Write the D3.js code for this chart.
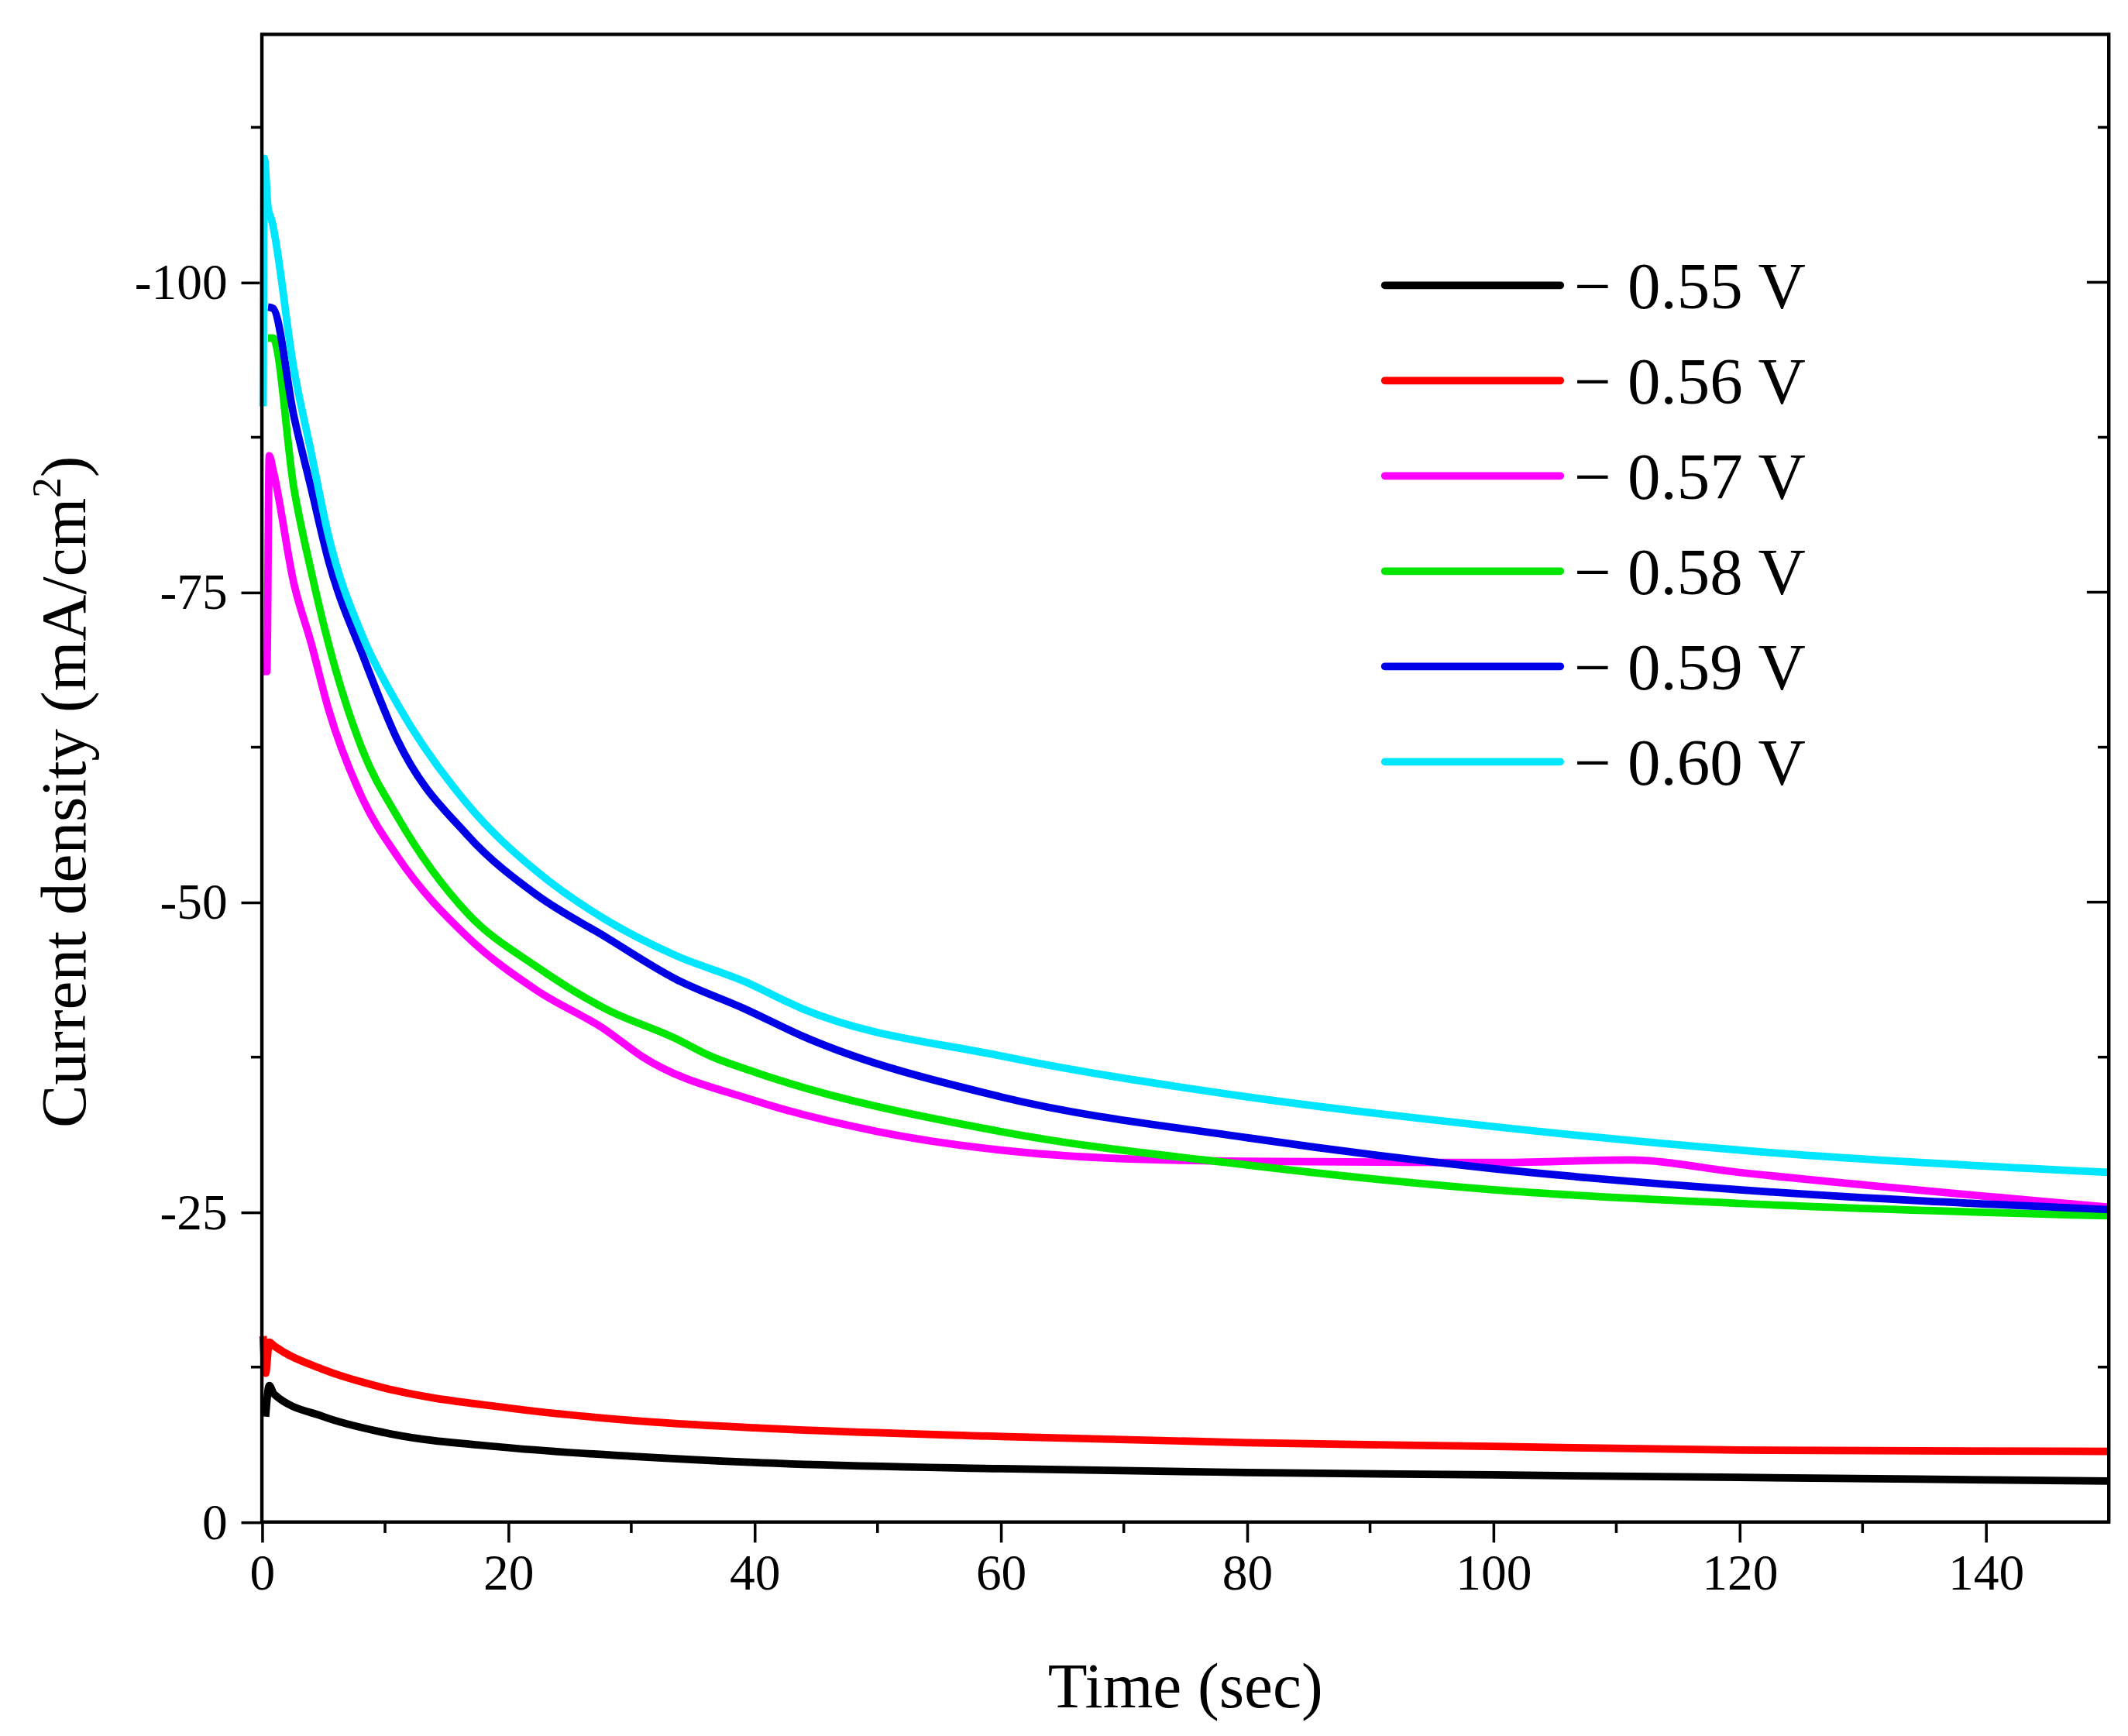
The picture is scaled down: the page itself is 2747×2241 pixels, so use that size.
<!DOCTYPE html>
<html><head><meta charset="utf-8">
<script src="https://cdn.jsdelivr.net/npm/d3@7"></script>
<style>body{margin:0;background:#fff}</style></head>
<body><svg id="c" width="2747" height="2241" viewBox="0 0 1552 1266"></svg>
<script>
const seriesNames = ["− 0.55 V","− 0.56 V","− 0.57 V","− 0.58 V","− 0.59 V","− 0.60 V"];
const seriesColors = ["#000000","#ff0000","#ff00ff","#00e600","#0000e6","#00e6ff"];
const xTicks = [0,20,40,60,80,100,120,140];
const yTicks = [0,25,50,75,100];
const t055 = [0.3,0.6,1,5,10,20,30,40,60,80,100,120,150];
const v055 = [8.5,11,10.3,8.5,7.2,6,5.3,4.8,4.3,4,3.8,3.6,3.3];
const t056 = [0.1,0.3,0.6,1,5,10,20,30,40,60,80,100,120,150];
const v056 = [15,12,14.5,14.2,12.3,10.8,9.2,8.2,7.6,6.9,6.4,6.1,5.8,5.7];
const t057 = [0.1,0.4,0.6,0.9,2.6,4,5.4,8.2,11,16.7,22.3,27.9,30.8,40,50,60,70,80,100,111,120,150];
const v057 = [68.6,68.6,86,84.9,75.7,70.9,65.6,58.3,53.7,47.2,42.9,39.7,37.6,34,31.5,30,29.3,29.1,29,29.2,28.2,25.4];
const t058 = [0.5,0.9,2.6,4,5.4,8.2,11,16.7,22.3,27.9,33.6,36.4,40,60,80,100,120,150];
const v058 = [95.5,95.5,83.4,76.7,70.9,62.2,56.9,49.1,44.8,41.4,39,37.6,36.3,31.5,28.8,26.8,25.7,24.7];
const t059 = [0.5,0.9,2.6,4,5.4,8.2,11,16.7,22.3,27.9,33.6,39.2,43.9,60,80,100,120,150];
const v059 = [98,97.9,89.2,83.4,77.6,69.9,63.1,55.4,50.6,47.2,43.8,41.4,39.2,34.3,31,28.5,26.8,25.2];
const t060 = [0.1,0.2,0.5,0.8,2.6,4,5.4,8.2,11,16.7,22.3,27.9,33.6,39.2,43.9,60,80,100,120,150];
const v060 = [90,110,106,105,93,86.3,79.6,71.4,66,57.9,52.5,48.6,45.7,43.6,41.4,37.6,34.3,31.9,30,28.2];
const times = [t055,t056,t057,t058,t059,t060];
const vals = [v055,v056,v057,v058,v059,v060];

const svg = d3.select("#c");
const L=191,R=1538,T=25,B=1110;
const x = d3.scaleLinear().domain([0,150]).range([L,R]);
const y = d3.scaleLinear().domain([0,120]).range([B,T]);
const font="Liberation Serif";

const g=svg.append("g");
d3.range(10,150,20).forEach(v=>{g.append("line").attr("x1",x(v)).attr("x2",x(v)).attr("y1",B).attr("y2",B+8).attr("stroke","#000").attr("stroke-width",2);});
[12.5,37.5,62.5,87.5,112.5].forEach(v=>{
 g.append("line").attr("x1",L-8).attr("x2",L).attr("y1",y(v)).attr("y2",y(v)).attr("stroke","#000").attr("stroke-width",2);
 g.append("line").attr("x1",R).attr("x2",R-8).attr("y1",y(v)).attr("y2",y(v)).attr("stroke","#000").attr("stroke-width",2);});
yTicks.forEach(v=>{g.append("line").attr("x1",R).attr("x2",R-16).attr("y1",y(v)).attr("y2",y(v)).attr("stroke","#000").attr("stroke-width",2);});

const xa=svg.append("g").attr("transform",`translate(0,${B})`).call(d3.axisBottom(x).tickValues(xTicks).tickSize(15).tickPadding(8));
const ya=svg.append("g").attr("transform",`translate(${L},0)`).call(d3.axisLeft(y).tickValues(yTicks).tickSize(15).tickPadding(10).tickFormat(d=>d===0?"0":"-"+d));
[xa,ya].forEach(a=>{a.select(".domain").remove();a.selectAll("line").attr("stroke-width",2);a.selectAll("text").attr("font-family",font).attr("font-size",37).attr("fill","#000");});

const line=d3.line().x(d=>x(d[0])).y(d=>y(d[1])).curve(d3.curveMonotoneX);
times.forEach((ts,i)=>{
 svg.append("path").datum(ts.map((t,j)=>[t,vals[i][j]])).attr("d",line).attr("fill","none").attr("stroke",seriesColors[i]).attr("stroke-width",5.5).attr("stroke-linejoin","round");
});
svg.append("rect").attr("x",L).attr("y",T).attr("width",R-L).attr("height",B-T).attr("fill","none").attr("stroke","#000").attr("stroke-width",2.5);

seriesNames.forEach((n,i)=>{
 const yy=208+i*69.5;
 svg.append("line").attr("x1",1010).attr("x2",1138).attr("y1",yy).attr("y2",yy).attr("stroke",seriesColors[i]).attr("stroke-width",5.5).attr("stroke-linecap","round");
 svg.append("text").attr("x",1148).attr("y",yy+17).attr("font-family",font).attr("font-size",48).text(n);
});
svg.append("text").attr("x",(L+R)/2).attr("y",1245).attr("text-anchor","middle").attr("font-family",font).attr("font-size",47).text("Time (sec)");
const yt=svg.append("text").attr("transform",`translate(62,${(T+B)/2+10}) rotate(-90)`).attr("text-anchor","middle").attr("font-family",font).attr("font-size",47);
yt.append("tspan").text("Current density (mA/cm");
yt.append("tspan").attr("font-size",30).attr("dy",-18).text("2");
yt.append("tspan").attr("dy",18).text(")");
</script></body></html>
